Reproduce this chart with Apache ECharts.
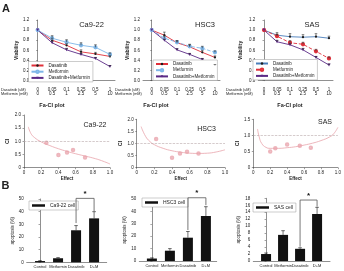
<!DOCTYPE html>
<html>
<head>
<meta charset="utf-8">
<script src="https://cdn.jsdelivr.net/npm/echarts@6/dist/echarts.min.js"></script>
<style>
  html, body { margin: 0; padding: 0; background: #fff; }
  #chart { width: 344px; height: 271px; }
</style>
</head>
<body>
<div id="chart"></div>
<script>
// doses under the viability plots
const dasDoses = ['0', '0.05', '0.1', '0.25', '0.5', '1'];
const metDoses = ['0', '0.5', '1', '2.5', '5', '10'];
const doseIdx = [0, 1, 2, 3, 4, 5];
const treatNames = ['Dasatinib', 'Metformin', 'Dasatinib+Metformin'];

// viability, fraction of control
const ca922Das = [1.0, 0.80, 0.70, 0.57, 0.53, 0.48];
const ca922Met = [1.0, 0.84, 0.76, 0.70, 0.66, 0.52];
const ca922Combo = [1.0, 0.75, 0.61, 0.52, 0.44, 0.28];
const ca922DasErr = [0, 0.03, 0.03, 0.04, 0.03, 0.02];
const ca922MetErr = [0, 0.05, 0.05, 0.05, 0.05, 0.03];
const ca922ComboErr = [0, 0.03, 0.03, 0.02, 0.02, 0.02];

const hsc3Das = [1.0, 0.90, 0.75, 0.67, 0.56, 0.46];
const hsc3Met = [1.0, 0.84, 0.76, 0.68, 0.64, 0.56];
const hsc3Combo = [1.0, 0.80, 0.61, 0.52, 0.42, 0.30];
const hsc3DasErr = [0, 0.06, 0.04, 0.04, 0.04, 0.03];
const hsc3MetErr = [0, 0.04, 0.03, 0.04, 0.04, 0.03];
const hsc3ComboErr = [0, 0.02, 0.02, 0.02, 0.02, 0.02];

const sasDas = [1.0, 0.90, 0.87, 0.86, 0.87, 0.84];
const sasMet = [1.0, 0.88, 0.75, 0.72, 0.58, 0.44];
const sasCombo = [1.0, 0.77, 0.71, 0.61, 0.46, 0.31];
const sasDasErr = [0, 0.05, 0.06, 0.05, 0.06, 0.04];
const sasMetErr = [0, 0.04, 0.04, 0.04, 0.04, 0.03];
const sasComboErr = [0, 0.03, 0.03, 0.03, 0.02, 0.02];

// Fa-CI plots: [effect, CI]
const ca922Curve = [[0.05, 1.55], [0.08, 1.3], [0.12, 1.15], [0.2, 0.98], [0.3, 0.84], [0.4, 0.72], [0.5, 0.62], [0.6, 0.53], [0.7, 0.45], [0.8, 0.37], [0.9, 0.27], [1.0, 0.14]];
const ca922Pts = [[0.26, 0.95], [0.40, 0.48], [0.50, 0.58], [0.57, 0.67], [0.71, 0.39]];
const hsc3Curve = [[0.05, 1.7], [0.1, 1.3], [0.15, 1.08], [0.2, 0.95], [0.3, 0.8], [0.4, 0.7], [0.5, 0.64], [0.6, 0.6], [0.7, 0.59], [0.8, 0.6], [0.9, 0.65], [1.0, 0.74]];
const hsc3Pts = [[0.22, 1.19], [0.40, 0.41], [0.49, 0.59], [0.57, 0.66], [0.70, 0.59]];
const sasCurve = [[0.05, 1.2], [0.07, 0.95], [0.1, 0.75], [0.15, 0.63], [0.2, 0.6], [0.3, 0.6], [0.4, 0.62], [0.5, 0.65], [0.6, 0.7], [0.7, 0.76], [0.8, 0.84], [0.9, 0.95], [0.95, 1.05], [1.0, 1.25]];
const sasPts = [[0.20, 0.50], [0.26, 0.60], [0.40, 0.72], [0.55, 0.68], [0.68, 0.62]];

// apoptosis (%)
const barCats = ['Control', 'Metformin', 'Dasatinib', 'D+M'];
const ca922Apop = [1.0, 3.2, 25.3, 34.7];
const ca922ApopErr = [0.3, 0.5, 3.7, 5.3];
const hsc3Apop = [2.0, 8.3, 18.8, 36.3];
const hsc3ApopErr = [0.5, 1.7, 5.0, 7.5];
const sasApop = [2.0, 7.5, 3.5, 13.5];
const sasApopErr = [0.3, 1.2, 0.3, 1.9];
// significance bracket: [from, to, top, left end, right end]
const ca922Sig = [[2, 3, 50.5, 31, 40.5]];
const hsc3Sig = [[2, 3, 51, 25, 45]];
const sasSig = [[2, 3, 17.5, 4.1, 15.6]];

const FONT = 'Liberation Sans';
const TXT = '#222';
const RED = '#e0303a', SKY = '#7eb6e8', PURPLE = '#5b2a86', STEEL = '#4a7ebb', DARK = '#1a1a1a';
const PINK = '#e8a3ab';

const grid = [], xAxis = [], yAxis = [], series = [], legend = [], graphic = [];

function errBars(gi, xs, ys, es, half, color) {
  return {
    type: 'custom', xAxisIndex: gi, yAxisIndex: gi, silent: true, z: 5,
    data: xs.map((x, i) => [x, ys[i], es[i]]),
    renderItem: (params, api) => {
      const x = api.value(0), y = api.value(1), e = api.value(2);
      if (!e) return null;
      const p0 = api.coord([x, y]), p1 = api.coord([x, y + e]);
      return {
        type: 'group', children: [
          { type: 'line', shape: { x1: p0[0], y1: p0[1], x2: p1[0], y2: p1[1] }, style: { stroke: color, lineWidth: 0.6 } },
          { type: 'line', shape: { x1: p1[0] - half, y1: p1[1], x2: p1[0] + half, y2: p1[1] }, style: { stroke: color, lineWidth: 0.6 } }
        ]
      };
    }
  };
}

function text(x, y, str, size, opts) {
  graphic.push({
    type: 'text', x: x, y: y, silent: true,
    style: Object.assign({ text: str, fontSize: size, fontFamily: FONT, fill: TXT, align: 'center', verticalAlign: 'middle' }, opts || {})
  });
}

// ---- A: viability ----
const linePanels = [
  { cell: 'Ca9-22', left: 32.3, width: 82.7, xMin: -0.37, xMax: 5.35, nameGap: 4, legLeft: 28.5, legTop: 61.5, titleX: 91.5, rowX: 1,
    lines: [[ca922Das, ca922DasErr, RED, DARK, 'circle', 'solid'], [ca922Met, ca922MetErr, SKY, SKY, 'emptyCircle', 'solid'], [ca922Combo, ca922ComboErr, PURPLE, PURPLE, 'triangle', 'solid']] },
  { cell: 'HSC3', left: 143, width: 77, xMin: -0.69, xMax: 5.4, nameGap: 12, legLeft: 153, legTop: 60, titleX: 205, rowX: 115,
    lines: [[hsc3Das, hsc3DasErr, RED, DARK, 'circle', 'solid'], [hsc3Met, hsc3MetErr, SKY, SKY, 'emptyCircle', 'dashed'], [hsc3Combo, hsc3ComboErr, PURPLE, PURPLE, 'triangle', 'solid']] },
  { cell: 'SAS', left: 258.3, width: 74.7, xMin: -0.44, xMax: 5.31, nameGap: 15, legLeft: 253, legTop: 59.5, titleX: 312, rowX: 226,
    lines: [[sasDas, sasDasErr, STEEL, DARK, 'circle', 'solid'], [sasMet, sasMetErr, RED, RED, 'emptyCircle', 'dashed'], [sasCombo, sasComboErr, PURPLE, PURPLE, 'triangle', 'solid']] }
];

linePanels.forEach((p, gi) => {
  grid.push({ left: p.left, top: 20, width: p.width, height: 60.7 });
  xAxis.push({
    type: 'value', gridIndex: gi, min: p.xMin, max: p.xMax,
    axisLine: { lineStyle: { color: '#444', width: 0.6 } },
    axisTick: { show: false }, splitLine: { show: false },
    axisLabel: { customValues: doseIdx, formatter: v => dasDoses[v] + '\n' + metDoses[v], fontSize: 4.5, lineHeight: 4.4, margin: 6.5, color: TXT, fontFamily: FONT }
  });
  yAxis.push({
    type: 'value', gridIndex: gi, min: 0, max: 1.2, interval: 0.2,
    name: 'Viability', nameLocation: 'middle', nameGap: p.nameGap,
    nameTextStyle: { fontSize: 5, fontWeight: 'bold', color: TXT, fontFamily: FONT },
    axisLine: { show: true, lineStyle: { color: '#444', width: 0.6 } },
    axisTick: { show: true, length: 1.5, lineStyle: { width: 0.5 } }, splitLine: { show: false },
    axisLabel: { formatter: v => v.toFixed(1), fontSize: 4.5, margin: 3, color: TXT, fontFamily: FONT }
  });
  p.lines.forEach((ln, k) => {
    const [vals, errs, lineColor, markColor, sym, dash] = ln;
    series.push(errBars(gi, doseIdx, vals, errs, 1.3, '#333'));
    series.push({
      name: p.cell + '|' + treatNames[k], type: 'line', xAxisIndex: gi, yAxisIndex: gi,
      data: doseIdx.map((x, i) => [x, vals[i]]),
      symbol: sym, symbolSize: sym === 'triangle' ? 3 : 2.3, symbolRotate: sym === 'triangle' ? 180 : 0,
      lineStyle: { color: lineColor, width: 0.9, type: dash },
      itemStyle: { color: markColor, borderWidth: 0.5 },
      animation: false, z: 3
    });
  });
  legend.push({
    orient: 'vertical', left: p.legLeft, top: p.legTop, selectedMode: false,
    data: treatNames.map(n => p.cell + '|' + n), formatter: n => n.split('|')[1],
    itemWidth: 12, itemHeight: 3, itemGap: 1.2, padding: [1.5, 3, 1.5, 2],
    borderColor: '#999', borderWidth: 0.5, backgroundColor: '#fff',
    textStyle: { fontSize: 4.5, color: TXT, fontFamily: FONT }
  });
  text(p.titleX, 24.8, p.cell, 7.5);
  text(p.rowX, 90, 'Dasatinib (uM)', 3.8, { align: 'left' });
  text(p.rowX, 94.4, 'Metformin (mM)', 3.8, { align: 'left' });
});
text(6, 8.5, 'A', 11, { fontWeight: 'bold' });

// ---- Fa-CI plots ----
const ciPanels = [
  { cell: 'Ca9-22', curve: ca922Curve, pts: ca922Pts, left: 24, top: 115, width: 86, height: 52.7, yMax: 2, nameGap: 8, titleX: 52, labelX: 95, labelY: 125.5 },
  { cell: 'HSC3', curve: hsc3Curve, pts: hsc3Pts, left: 136.7, top: 119.3, width: 88.3, height: 48.4, yMax: 2, nameGap: 6, titleX: 156, labelX: 206.5, labelY: 129.5 },
  { cell: 'SAS', curve: sasCurve, pts: sasPts, left: 253.3, top: 119.3, width: 85, height: 48.4, yMax: 1.5, nameGap: 3.5, titleX: 290, labelX: 325, labelY: 122.5 }
];

ciPanels.forEach((p, k) => {
  const gi = 3 + k;
  grid.push({ left: p.left, top: p.top, width: p.width, height: p.height });
  xAxis.push({
    type: 'value', gridIndex: gi, min: 0, max: 1, interval: 0.2,
    name: 'Effect', nameLocation: 'middle', nameGap: 7,
    nameTextStyle: { fontSize: 4.5, fontWeight: 'bold', color: TXT, fontFamily: FONT },
    axisLine: { lineStyle: { color: '#444', width: 0.6 } },
    axisTick: { show: true, length: 1.5, lineStyle: { width: 0.5 } }, splitLine: { show: false },
    axisLabel: { formatter: v => v === 0 ? '0' : v.toFixed(1), fontSize: 4.5, margin: 2.5, color: TXT, fontFamily: FONT }
  });
  yAxis.push({
    type: 'value', gridIndex: gi, min: 0, max: p.yMax, interval: 0.5,
    name: 'CI', nameLocation: 'middle', nameGap: p.nameGap,
    nameTextStyle: { fontSize: 5.5, fontWeight: 'bold', color: TXT, fontFamily: FONT },
    axisLine: { show: true, lineStyle: { color: '#444', width: 0.6 } },
    axisTick: { show: true, length: 1.5, lineStyle: { width: 0.5 } }, splitLine: { show: false },
    axisLabel: { formatter: v => v === 0 ? '0' : v.toFixed(1), fontSize: 4.5, margin: 3, color: TXT, fontFamily: FONT }
  });
  series.push({
    type: 'line', xAxisIndex: gi, yAxisIndex: gi, data: p.curve, smooth: true, symbol: 'none',
    lineStyle: { color: PINK, width: 0.8 }, animation: false, silent: true,
    markLine: {
      silent: true, symbol: 'none', label: { show: false },
      lineStyle: { type: 'dashed', color: '#b9a7aa', width: 0.6 },
      data: [{ yAxis: 1 }]
    }
  });
  series.push({
    type: 'scatter', xAxisIndex: gi, yAxisIndex: gi, data: p.pts, symbol: 'emptyCircle', symbolSize: 2.5,
    itemStyle: { color: PINK, borderWidth: 0.6 }, animation: false, silent: true
  });
  text(p.titleX, 105.5, 'Fa-CI plot', 5.5, { fontWeight: 'bold' });
  text(p.labelX, p.labelY, p.cell, 7);
});

// ---- B: apoptosis ----
const barPanels = [
  { name: 'Ca9-22 cell', vals: ca922Apop, errs: ca922ApopErr, sig: ca922Sig, left: 26.7, width: 80, xMin: -0.74, xMax: 3.7, yMax: 50, yInt: 10, top: 199, height: 63.3, nameGap: 10, legLeft: 29, legTop: 201 },
  { name: 'HSC3 cell', vals: hsc3Apop, errs: hsc3ApopErr, sig: hsc3Sig, left: 139.3, width: 77.4, xMin: -0.7, xMax: 3.6, yMax: 50, yInt: 10, top: 199, height: 62, nameGap: 10, legLeft: 142, legTop: 198 },
  { name: 'SAS cell', vals: sasApop, errs: sasApopErr, sig: sasSig, left: 253.3, width: 76.7, xMin: -0.75, xMax: 3.76, yMax: 18, yInt: 2, top: 198.3, height: 62.7, nameGap: 11.5, legLeft: 253, legTop: 203 }
];
const barIdx = [0, 1, 2, 3];

barPanels.forEach((p, k) => {
  const gi = 6 + k;
  grid.push({ left: p.left, top: p.top, width: p.width, height: p.height });
  xAxis.push({
    type: 'value', gridIndex: gi, min: p.xMin, max: p.xMax,
    axisLine: { lineStyle: { color: '#444', width: 0.6 } },
    axisTick: { show: false }, splitLine: { show: false },
    axisLabel: { customValues: barIdx, formatter: v => barCats[v], fontSize: 4, margin: 3, color: TXT, fontFamily: FONT }
  });
  yAxis.push({
    type: 'value', gridIndex: gi, min: 0, max: p.yMax, interval: p.yInt,
    name: 'apoptosis (%)', nameLocation: 'middle', nameGap: p.nameGap,
    nameTextStyle: { fontSize: 4.5, color: TXT, fontFamily: FONT },
    axisLine: { show: true, lineStyle: { color: '#444', width: 0.6 } },
    axisTick: { show: true, length: 1.5, lineStyle: { width: 0.5 } }, splitLine: { show: false },
    axisLabel: { fontSize: 4.5, margin: 3, color: TXT, fontFamily: FONT }
  });
  series.push({
    name: p.name, type: 'bar', xAxisIndex: gi, yAxisIndex: gi, barWidth: 10,
    data: barIdx.map((x, i) => [x, p.vals[i]]),
    itemStyle: { color: '#111' }, animation: false, silent: true
  });
  series.push(errBars(gi, barIdx, p.vals, p.errs, 1.8, '#111'));
  series.push({
    type: 'custom', xAxisIndex: gi, yAxisIndex: gi, silent: true, clip: false, z: 6,
    data: p.sig, encode: { x: [0, 1], y: [2, 3, 4] },
    renderItem: (params, api) => {
      const x1 = api.value(0), x2 = api.value(1), top = api.value(2);
      const a = api.coord([x1, api.value(3)]), b = api.coord([x1, top]);
      const c = api.coord([x2, top]), d = api.coord([x2, api.value(4)]);
      return {
        type: 'group', children: [
          { type: 'polyline', shape: { points: [a, b, c, d] }, style: { stroke: '#555', lineWidth: 0.8, fill: null } },
          { type: 'text', style: { x: (b[0] + c[0]) / 2, y: b[1] - 0.5, text: '*', fontSize: 8, fontWeight: 'bold', fontFamily: FONT, fill: '#111', align: 'center', verticalAlign: 'bottom' } }
        ]
      };
    }
  });
  legend.push({
    left: p.legLeft, top: p.legTop, selectedMode: false, data: [p.name],
    icon: 'rect', itemWidth: 13, itemHeight: 2.5, padding: [2, 3, 2, 3],
    borderColor: '#999', borderWidth: 0.5, backgroundColor: '#fff',
    textStyle: { fontSize: 5, color: TXT, fontFamily: FONT }
  });
});
text(5.5, 186, 'B', 11, { fontWeight: 'bold' });

const chart = echarts.init(document.getElementById('chart'));
chart.setOption({
  animation: false,
  textStyle: { fontFamily: FONT },
  grid, xAxis, yAxis, legend, series, graphic
});
</script>
</body>
</html>
